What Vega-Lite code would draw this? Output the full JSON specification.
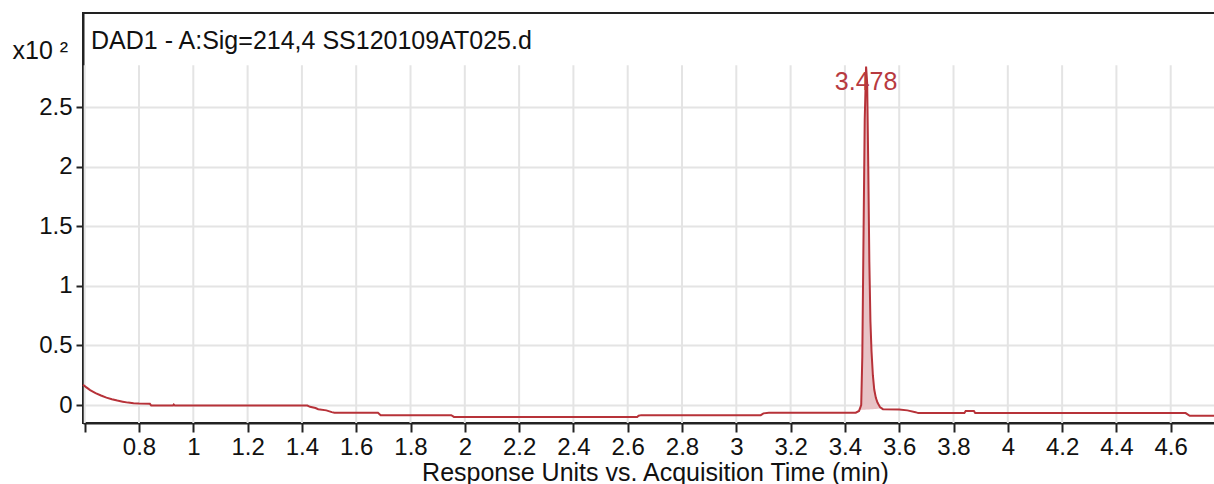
{
  "$schema": "https://vega.github.io/schema/vega-lite/v6.json",
  "width": 1134,
  "height": 410,
  "autosize": {"type": "none"},
  "padding": {"left": 83, "top": 13, "right": 0, "bottom": 61},
  "background": "white",
  "config": {
    "view": {"stroke": "#222222", "strokeWidth": 2},
    "font": "Liberation Sans"
  },
  "title": {
    "text": "DAD1 - A:Sig=214,4 SS120109AT025.d",
    "anchor": "start",
    "frame": "group",
    "orient": "top",
    "offset": 0,
    "dx": 8,
    "dy": 61,
    "baseline": "alphabetic",
    "fontSize": 25,
    "fontWeight": "normal",
    "font": "Liberation Sans",
    "color": "#111111"
  },
  "datasets": {
    "ticks": [
      {"t": 0.6}, {"t": 0.8}, {"t": 1.0}, {"t": 1.2}, {"t": 1.4}, {"t": 1.6}, {"t": 1.8}, {"t": 2.0}, {"t": 2.2}, {"t": 2.4}, {"t": 2.6}, {"t": 2.8}, {"t": 3.0}, {"t": 3.2}, {"t": 3.4}, {"t": 3.6}, {"t": 3.8}, {"t": 4.0}, {"t": 4.2}, {"t": 4.4}, {"t": 4.6}
    ],
    "signal": [
      {"t": 0.5937, "v": 0.17}, {"t": 0.605, "v": 0.15}, {"t": 0.62, "v": 0.125}, {"t": 0.64, "v": 0.1}, {"t": 0.66, "v": 0.08},
      {"t": 0.68, "v": 0.062}, {"t": 0.70, "v": 0.048}, {"t": 0.72, "v": 0.037}, {"t": 0.74, "v": 0.028}, {"t": 0.76, "v": 0.02},
      {"t": 0.78, "v": 0.015}, {"t": 0.80, "v": 0.012}, {"t": 0.84, "v": 0.01}, {"t": 0.845, "v": -0.005}, {"t": 0.925, "v": -0.005},
      {"t": 0.928, "v": 0.004}, {"t": 0.932, "v": -0.005}, {"t": 1.42, "v": -0.005}, {"t": 1.43, "v": -0.015}, {"t": 1.45, "v": -0.025},
      {"t": 1.46, "v": -0.035}, {"t": 1.49, "v": -0.045}, {"t": 1.51, "v": -0.06}, {"t": 1.52, "v": -0.065}, {"t": 1.68, "v": -0.065},
      {"t": 1.69, "v": -0.085}, {"t": 1.95, "v": -0.085}, {"t": 1.96, "v": -0.1}, {"t": 2.635, "v": -0.1}, {"t": 2.64, "v": -0.09},
      {"t": 2.65, "v": -0.085}, {"t": 3.09, "v": -0.085}, {"t": 3.10, "v": -0.07}, {"t": 3.12, "v": -0.065}, {"t": 3.44, "v": -0.065},
      {"t": 3.452, "v": -0.05}, {"t": 3.46, "v": 0.0}, {"t": 3.464, "v": 0.4}, {"t": 3.468, "v": 1.3}, {"t": 3.473, "v": 2.4},
      {"t": 3.478, "v": 2.84}, {"t": 3.482, "v": 2.7}, {"t": 3.486, "v": 2.0}, {"t": 3.49, "v": 1.2}, {"t": 3.494, "v": 0.7},
      {"t": 3.498, "v": 0.45}, {"t": 3.503, "v": 0.25}, {"t": 3.508, "v": 0.13}, {"t": 3.514, "v": 0.06}, {"t": 3.52, "v": 0.02},
      {"t": 3.53, "v": -0.02}, {"t": 3.54, "v": -0.035}, {"t": 3.60, "v": -0.038}, {"t": 3.63, "v": -0.045}, {"t": 3.66, "v": -0.06},
      {"t": 3.67, "v": -0.068}, {"t": 3.84, "v": -0.068}, {"t": 3.845, "v": -0.05}, {"t": 3.875, "v": -0.05}, {"t": 3.88, "v": -0.068},
      {"t": 4.655, "v": -0.068}, {"t": 4.67, "v": -0.09}, {"t": 4.7705, "v": -0.09}
    ],
    "peakfill": [
      {"t": 3.455, "v": -0.035, "b": -0.04}, {"t": 3.46, "v": 0.0, "b": -0.04}, {"t": 3.464, "v": 0.4, "b": -0.04},
      {"t": 3.468, "v": 1.3, "b": -0.039}, {"t": 3.473, "v": 2.4, "b": -0.039}, {"t": 3.478, "v": 2.84, "b": -0.038},
      {"t": 3.482, "v": 2.7, "b": -0.038}, {"t": 3.486, "v": 2.0, "b": -0.037}, {"t": 3.49, "v": 1.2, "b": -0.037},
      {"t": 3.494, "v": 0.7, "b": -0.036}, {"t": 3.498, "v": 0.45, "b": -0.036}, {"t": 3.503, "v": 0.25, "b": -0.035},
      {"t": 3.508, "v": 0.13, "b": -0.034}, {"t": 3.514, "v": 0.06, "b": -0.033}, {"t": 3.52, "v": 0.02, "b": -0.032},
      {"t": 3.53, "v": -0.02, "b": -0.03}
    ],
    "peaklabel": [
      {"t": 3.478, "v": 2.84, "label": "3.478"}
    ]
  },
  "layer": [
    {
      "data": {"name": "signal"},
      "mark": {"type": "line", "color": "#b73239", "strokeWidth": 2, "opacity": 0},
      "encoding": {
        "x": {
          "field": "t", "type": "quantitative",
          "scale": {"domain": [0.5937, 4.7705], "zero": false, "nice": false},
          "axis": {
            "values": [0.6, 0.8, 1, 1.2, 1.4, 1.6, 1.8, 2, 2.2, 2.4, 2.6, 2.8, 3, 3.2, 3.4, 3.6, 3.8, 4, 4.2, 4.4, 4.6],
            "labelExpr": "datum.value < 0.7 ? '' : format(datum.value, '~g')",
            "grid": false,
            "labelFontSize": 24, "labelColor": "#111111", "labelPadding": 3, "labelFont": "Liberation Sans",
            "tickSize": 9, "tickWidth": 2, "tickColor": "#222222",
            "domainColor": "#222222", "domainWidth": 2,
            "title": "Response Units vs. Acquisition Time (min)",
            "titleFontSize": 25, "titleFontWeight": "normal", "titleColor": "#111111", "titleFont": "Liberation Sans",
            "titleBaseline": "alphabetic", "titleY": 57, "titleX": 572
          }
        },
        "y": {
          "field": "v", "type": "quantitative",
          "scale": {"domain": [-0.151, 3.289], "zero": false, "nice": false},
          "axis": {
            "values": [0, 0.5, 1, 1.5, 2, 2.5],
            "format": "~g",
            "grid": true, "gridColor": "#e4e4e4", "gridWidth": 2,
            "labelFontSize": 24, "labelColor": "#111111", "labelPadding": 4, "labelFont": "Liberation Sans",
            "tickSize": 7, "tickWidth": 2, "tickColor": "#222222",
            "domainColor": "#222222", "domainWidth": 2,
            "title": "x10 ²",
            "titleAngle": 0, "titleAlign": "left", "titleBaseline": "alphabetic",
            "titleX": -71, "titleY": 45,
            "titleFontSize": 25, "titleFontWeight": "normal", "titleColor": "#111111", "titleFont": "Liberation Sans"
          }
        }
      }
    },
    {
      "data": {"name": "ticks"},
      "mark": {"type": "rule", "color": "#e4e4e4", "strokeWidth": 2},
      "encoding": {
        "x": {"field": "t", "type": "quantitative"},
        "y": {"datum": -0.151, "type": "quantitative"},
        "y2": {"datum": 2.85}
      }
    },
    {
      "data": {"name": "peakfill"},
      "mark": {"type": "area", "color": "#e8c3c6", "opacity": 1},
      "encoding": {
        "x": {"field": "t", "type": "quantitative"},
        "y": {"field": "v", "type": "quantitative"},
        "y2": {"field": "b"}
      }
    },
    {
      "data": {"name": "signal"},
      "mark": {"type": "line", "color": "#b73239", "strokeWidth": 2},
      "encoding": {
        "x": {"field": "t", "type": "quantitative"},
        "y": {"field": "v", "type": "quantitative"}
      }
    },
    {
      "data": {"name": "peaklabel"},
      "mark": {"type": "text", "color": "#b83a3f", "fontSize": 25, "font": "Liberation Sans", "baseline": "alphabetic", "align": "center", "dy": 23},
      "encoding": {
        "x": {"field": "t", "type": "quantitative"},
        "y": {"field": "v", "type": "quantitative"},
        "text": {"field": "label"}
      }
    }
  ]
}
